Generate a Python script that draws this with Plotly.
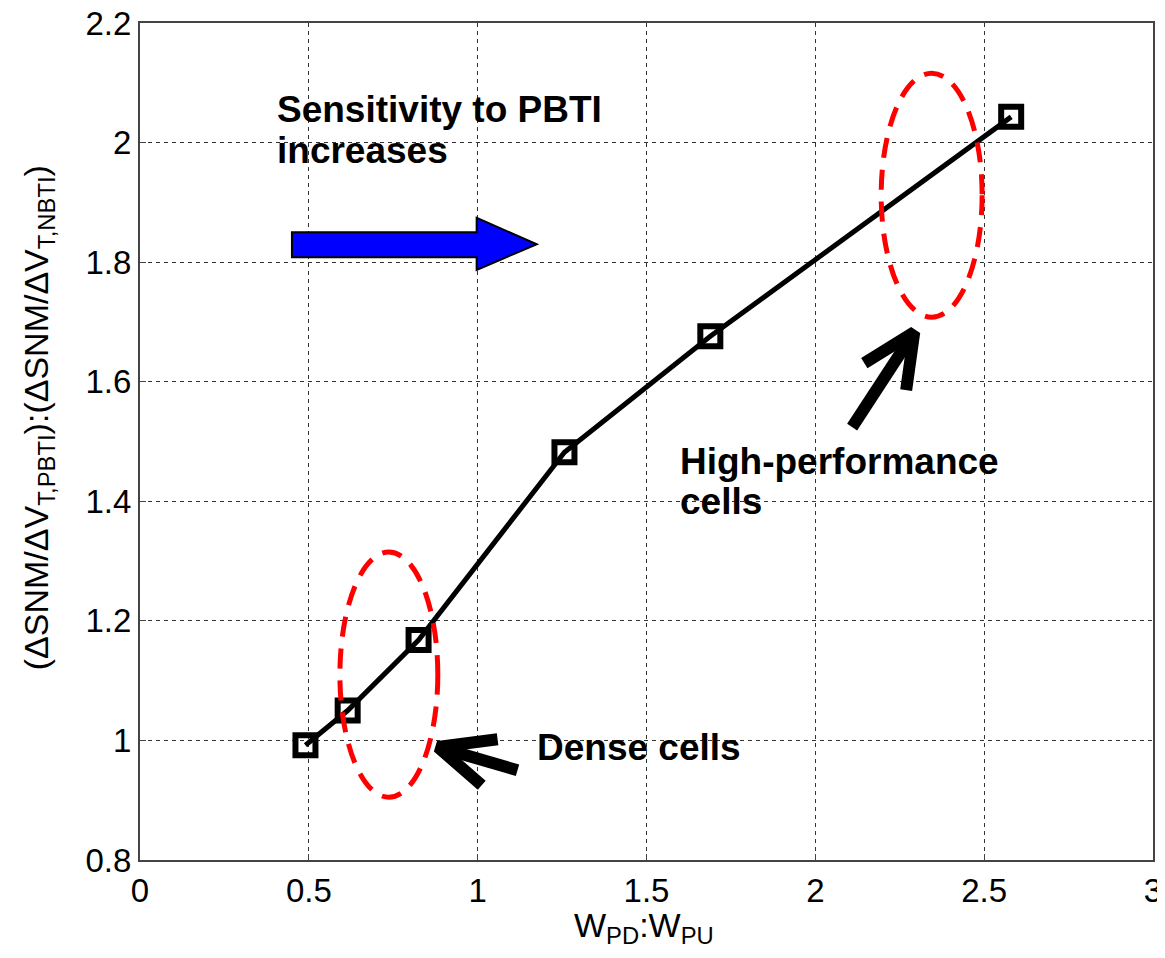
import plotly.graph_objects as go

# Data
w_ratio = [0.49, 0.615, 0.825, 1.257, 1.689, 2.58]
sens_ratio = [0.992, 1.05, 1.168, 1.482, 1.676, 2.043]

x_ticks = [0, 0.5, 1, 1.5, 2, 2.5, 3]
x_tick_labels = ["0", "0.5", "1", "1.5", "2", "2.5", "3"]
y_ticks = [0.8, 1.0, 1.2, 1.4, 1.6, 1.8, 2.0, 2.2]
y_tick_labels = ["0.8", "1", "1.2", "1.4", "1.6", "1.8", "2", "2.2"]

FONT = "Arial, Liberation Sans, sans-serif"

# annotation geometry (data units)
dense_ellipse = dict(x0=0.592, x1=0.882, y0=0.905, y1=1.315)
hp_ellipse = dict(x0=2.195, x1=2.494, y0=1.708, y1=2.116)
blue_arrow = [(0.450, 1.850), (0.997, 1.850), (0.997, 1.874), (1.175, 1.830),
              (0.997, 1.787), (0.997, 1.808), (0.450, 1.808)]
dense_arrow = dict(tip=(0.882, 0.989), tail=(1.118, 0.950), w1=(1.059, 1.002), w2=(1.012, 0.925))
hp_arrow = dict(tip=(2.293, 1.683), tail=(2.109, 1.524), w1=(2.145, 1.631), w2=(2.269, 1.586))

fig = go.Figure()

fig.add_trace(go.Scatter(
    x=w_ratio, y=sens_ratio, mode="lines+markers",
    line=dict(color="black", width=5),
    marker=dict(symbol="square-open", size=20, color="black", line=dict(width=6)),
    showlegend=False, hoverinfo="skip"))

for arr in (dense_arrow, hp_arrow):
    xs = [arr["w1"][0], arr["tip"][0], arr["w2"][0], None, arr["tip"][0], arr["tail"][0]]
    ys = [arr["w1"][1], arr["tip"][1], arr["w2"][1], None, arr["tip"][1], arr["tail"][1]]
    fig.add_trace(go.Scatter(x=xs, y=ys, mode="lines", line=dict(color="black", width=12),
                             showlegend=False, hoverinfo="skip"))

path = "M " + " L ".join(f"{x},{y}" for x, y in blue_arrow) + " Z"
shapes = [
    dict(type="path", path=path, xref="x", yref="y", fillcolor="#0000FF",
         line=dict(color="black", width=2)),
    dict(type="circle", xref="x", yref="y", **dense_ellipse,
         line=dict(color="#FF0000", width=5, dash="20px,12px")),
    dict(type="circle", xref="x", yref="y", **hp_ellipse,
         line=dict(color="#FF0000", width=5, dash="20px,12px")),
]

TXT = dict(family=FONT, size=37, color="black")
annotations = [
    dict(x=0.40, y=2.056, xref="x", yref="y", text="<b>Sensitivity to PBTI</b>",
         showarrow=False, xanchor="left", yanchor="middle", font=TXT),
    dict(x=0.40, y=1.986, xref="x", yref="y", text="<b>increases</b>",
         showarrow=False, xanchor="left", yanchor="middle", font=TXT),
    dict(x=1.169, y=0.989, xref="x", yref="y", text="<b>Dense cells</b>",
         showarrow=False, xanchor="left", yanchor="middle", font=TXT),
    dict(x=1.592, y=1.467, xref="x", yref="y", text="<b>High-performance</b>",
         showarrow=False, xanchor="left", yanchor="middle", font=TXT),
    dict(x=1.592, y=1.400, xref="x", yref="y", text="<b>cells</b>",
         showarrow=False, xanchor="left", yanchor="middle", font=TXT),
    dict(x=-0.1007, y=0.529, xref="paper", yref="paper", textangle=-90,
         text="(ΔSNM/ΔV<sub>T,PBTI</sub>):(ΔSNM/ΔV<sub>T,NBTI</sub>)",
         showarrow=False, xanchor="center", yanchor="middle",
         font=dict(family=FONT, size=34, color="black")),
    dict(x=0.4975, y=-0.053, xref="paper", yref="paper",
         text="W<sub>PD</sub>:W<sub>PU</sub>",
         showarrow=False, xanchor="center", yanchor="top",
         font=dict(family=FONT, size=34, color="black")),
]

axis_common = dict(
    showgrid=True, gridcolor="#333333", gridwidth=1, griddash="4px,4px",
    showline=True, linecolor="#444444", linewidth=2, mirror=True,
    ticks="inside", ticklen=6, tickcolor="#444444", automargin=False,
    ticklabeloverflow="allow",
    zeroline=False, tickfont=dict(family=FONT, size=33, color="black"),
)

fig.update_layout(
    width=1157, height=950,
    margin=dict(l=132, r=12, t=15, b=98),
    paper_bgcolor="white", plot_bgcolor="white",
    xaxis=dict(range=[0, 3], tickvals=x_ticks, ticktext=x_tick_labels, **axis_common),
    yaxis=dict(range=[0.8, 2.2], tickvals=y_ticks, ticktext=y_tick_labels, **axis_common),
    shapes=shapes, annotations=annotations,
)

fig.write_html("out.html")
